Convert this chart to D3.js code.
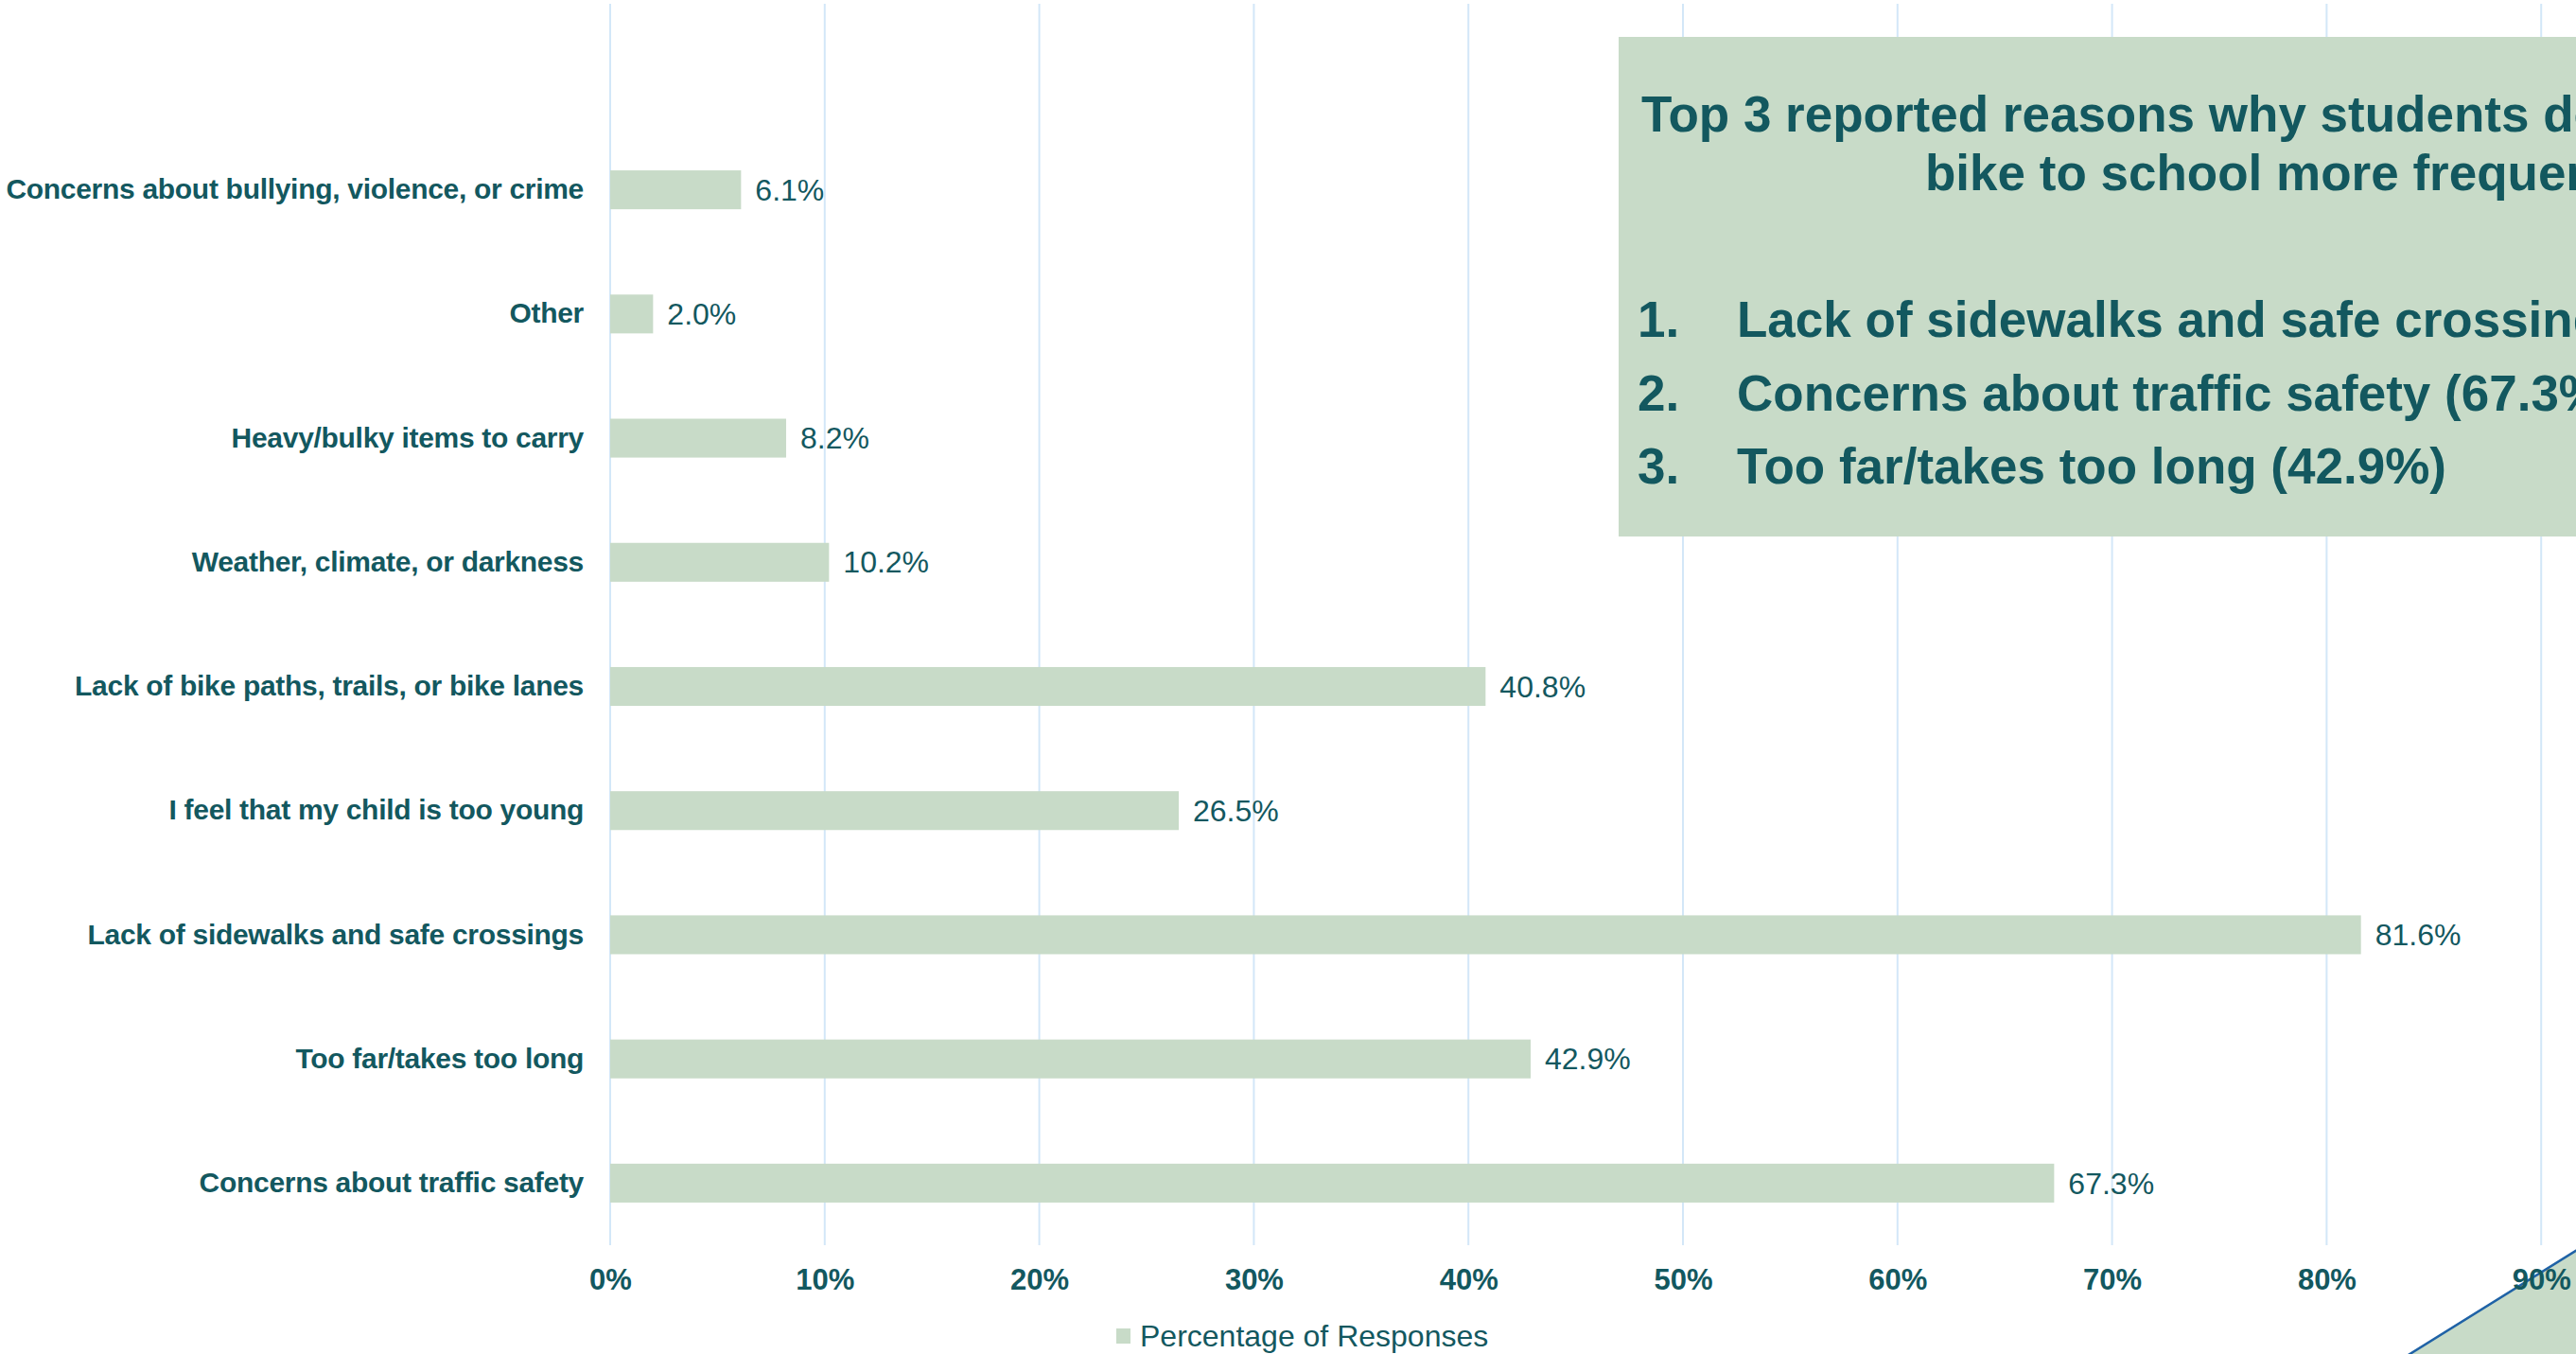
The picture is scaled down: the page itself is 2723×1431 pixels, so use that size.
<!DOCTYPE html>
<html>
<head>
<meta charset="utf-8">
<script src="https://cdn.jsdelivr.net/npm/d3@7"></script>
<style>
	html, body { margin: 0; padding: 0; background: #fff; overflow: hidden; }
	svg { display: block; font-family: Arial, 'Liberation Sans', sans-serif; }
</style>
</head>
<body>
<svg id="chart" width="2723" height="1431"></svg>
<script>
// reasons, top to bottom as drawn
const categories = [
	'Concerns about bullying, violence, or crime',
	'Other',
	'Heavy/bulky items to carry',
	'Weather, climate, or darkness',
	'Lack of bike paths, trails, or bike lanes',
	'I feel that my child is too young',
	'Lack of sidewalks and safe crossings',
	'Too far/takes too long',
	'Concerns about traffic safety'
];
const responses = [6.1, 2.0, 8.2, 10.2, 40.8, 26.5, 81.6, 42.9, 67.3];
const xTicks = [0, 10, 20, 30, 40, 50, 60, 70, 80, 90];
const seriesName = 'Percentage of Responses';

// callout text box
const calloutTitle = ['Top 3 reported reasons why students don\u2019t walk or', 'bike to school more frequently'];
const calloutItems = [
	'Lack of sidewalks and safe crossings (81.6%)',
	'Concerns about traffic safety (67.3%)',
	'Too far/takes too long (42.9%)'
];

const teal = '#13585f',
	sage = '#c8dbc8',
	grid = '#d3e7f8';

const svg = d3.select('#chart');

//axis runs 0-100%, the right part is cropped off the picture
const x = d3.scaleLinear().domain([0, 100]).range([645, 2913]);
const y = d3.scaleBand().domain(categories).range([135, 1316]).paddingInner(0.687).paddingOuter(0.3435);

//gridlines
svg.append('g')
	.selectAll('line')
	.data(xTicks)
	.join('line')
	.attr('x1', d => x(d))
	.attr('x2', d => x(d))
	.attr('y1', 4)
	.attr('y2', 1316)
	.attr('stroke', grid)
	.attr('stroke-width', 2);

//corner shape, bottom right (sits under the axis labels)
svg.append('path')
	.attr('d', 'M 2541 1435 L 2729 1318 L 2729 1435 Z')
	.attr('fill', sage)
	.attr('stroke', '#1f62a6')
	.attr('stroke-width', 2.5);

//x axis labels
const xAxis = d3.axisBottom(x).tickValues(xTicks).tickFormat(d => d + '%').tickSize(0).tickPadding(0);
svg.append('g')
	.attr('transform', 'translate(0,1340)')
	.call(xAxis)
	.call(g => g.select('.domain').remove())
	.call(g => g.selectAll('text')
		.attr('fill', teal)
		.attr('font-size', 31)
		.attr('font-weight', 'bold')
		.attr('font-family', 'Arial, Liberation Sans, sans-serif')
		.attr('dy', '0.74em'));

//y axis labels
const yAxis = d3.axisLeft(y).tickSize(0).tickPadding(28);
svg.append('g')
	.attr('transform', `translate(${x(0)},0)`)
	.call(yAxis)
	.call(g => g.select('.domain').remove())
	.call(g => g.selectAll('text')
		.attr('fill', teal)
		.attr('font-size', 30)
		.attr('font-weight', 'bold')
		.attr('letter-spacing', -0.3)
		.attr('font-family', 'Arial, Liberation Sans, sans-serif'));

//bars
svg.append('g')
	.selectAll('rect')
	.data(categories)
	.join('rect')
	.attr('x', x(0))
	.attr('y', d => y(d))
	.attr('width', (d, i) => x(responses[i]) - x(0))
	.attr('height', y.bandwidth())
	.attr('fill', sage);

//value labels
svg.append('g')
	.selectAll('text')
	.data(categories)
	.join('text')
	.attr('x', (d, i) => x(responses[i]) + 15)
	.attr('y', d => y(d) + y.bandwidth() / 2)
	.attr('dy', '0.35em')
	.attr('fill', teal)
	.attr('font-size', 32)
	.text((d, i) => responses[i].toFixed(1) + '%');

//legend
const legend = svg.append('g').attr('transform', 'translate(1180,1412)');
legend.append('rect').attr('x', 0).attr('y', -8).attr('width', 15).attr('height', 16).attr('fill', sage);
legend.append('text')
	.attr('x', 25)
	.attr('dy', '0.35em')
	.attr('fill', teal)
	.attr('font-size', 32)
	.text(seriesName);

//callout box
const box = svg.append('g');
box.append('rect').attr('x', 1711).attr('y', 39).attr('width', 1100).attr('height', 528).attr('fill', sage);
const titleStarts = [1735, 2035];
box.selectAll('text.title')
	.data(calloutTitle)
	.join('text')
	.attr('class', 'title')
	.attr('x', (d, i) => titleStarts[i])
	.attr('y', (d, i) => 139 + i * 62)
	.attr('fill', teal)
	.attr('font-size', 53)
	.attr('font-weight', 'bold')
	.text(d => d);
const items = box.selectAll('g.item')
	.data(calloutItems)
	.join('g')
	.attr('class', 'item')
	.attr('transform', (d, i) => `translate(0,${356 + i * 77.5})`);
items.append('text')
	.attr('x', 1731)
	.attr('fill', teal)
	.attr('font-size', 53)
	.attr('font-weight', 'bold')
	.text((d, i) => i + 1 + '.');
items.append('text')
	.attr('x', 1836)
	.attr('fill', teal)
	.attr('font-size', 53)
	.attr('font-weight', 'bold')
	.text(d => d);
</script>
</body>
</html>
